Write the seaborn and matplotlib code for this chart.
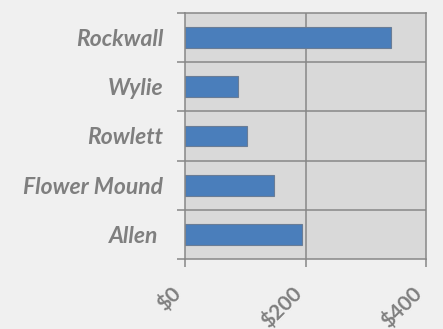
import matplotlib
matplotlib.use("Agg")
import matplotlib.pyplot as plt
import seaborn as sns
import pandas as pd

# Values per city (dollars)
cities = ["Rockwall", "Wylie", "Rowlett", "Flower Mound", "Allen "]
values = [341, 88, 103, 147, 194]
x_ticks = [0, 200, 400]
x_tick_labels = ["$0", "$200", "$400"]

df = pd.DataFrame({"city": cities, "value": values})

sns.set_theme(style="white")
plt.rcParams["font.family"] = ["Lato", "DejaVu Sans"]

GRAY = "#878787"
TEXT = "#7f7f7f"

fig = plt.figure(figsize=(4.43, 3.29), dpi=100, facecolor="#f0f0f0")
ax = fig.add_axes([0.4187, 0.2119, 0.5429, 0.7495])
ax.set_facecolor("#d9d9d9")

sns.barplot(data=df, x="value", y="city", orient="h", color="#4a7ebb",
            saturation=1, width=0.42, edgecolor="#6a7d96", linewidth=0.8,
            ax=ax)

ax.set_xlim(0, 400)
ax.set_ylim(4.5, -0.5)
ax.set_xlabel("")
ax.set_ylabel("")

# x axis: ticks at 0/200/400 with rotated labels
ax.set_xticks(x_ticks)
ax.set_xticklabels(x_tick_labels, rotation=45, ha="right", va="top",
                   fontsize=15, fontweight="bold", color=TEXT)
ax.tick_params(axis="x", which="major", length=6, width=1.1, color=GRAY,
               direction="out", pad=11, bottom=True)

# y axis: labels at centers, tick marks at category boundaries
ax.tick_params(axis="y", which="major", length=0, pad=16)
for lbl in ax.get_yticklabels():
    lbl.set_fontsize(16.5)
    lbl.set_style("italic")
    lbl.set_fontweight("bold")
    lbl.set_color(TEXT)
ax.set_yticks([-0.5, 0.5, 1.5, 2.5, 3.5, 4.5], minor=True)
ax.tick_params(axis="y", which="minor", length=6, width=1.1, color=GRAY,
               direction="out", left=True)

# grid lines
ax.axvline(200, color=GRAY, lw=1.1, zorder=0.5)
for b in [0.5, 1.5, 2.5, 3.5]:
    ax.axhline(b, color=GRAY, lw=1.1, zorder=0.5)

for s in ax.spines.values():
    s.set_visible(True)
    s.set_color(GRAY)
    s.set_linewidth(1.1)

fig.savefig("out.png", dpi=100, facecolor=fig.get_facecolor())
